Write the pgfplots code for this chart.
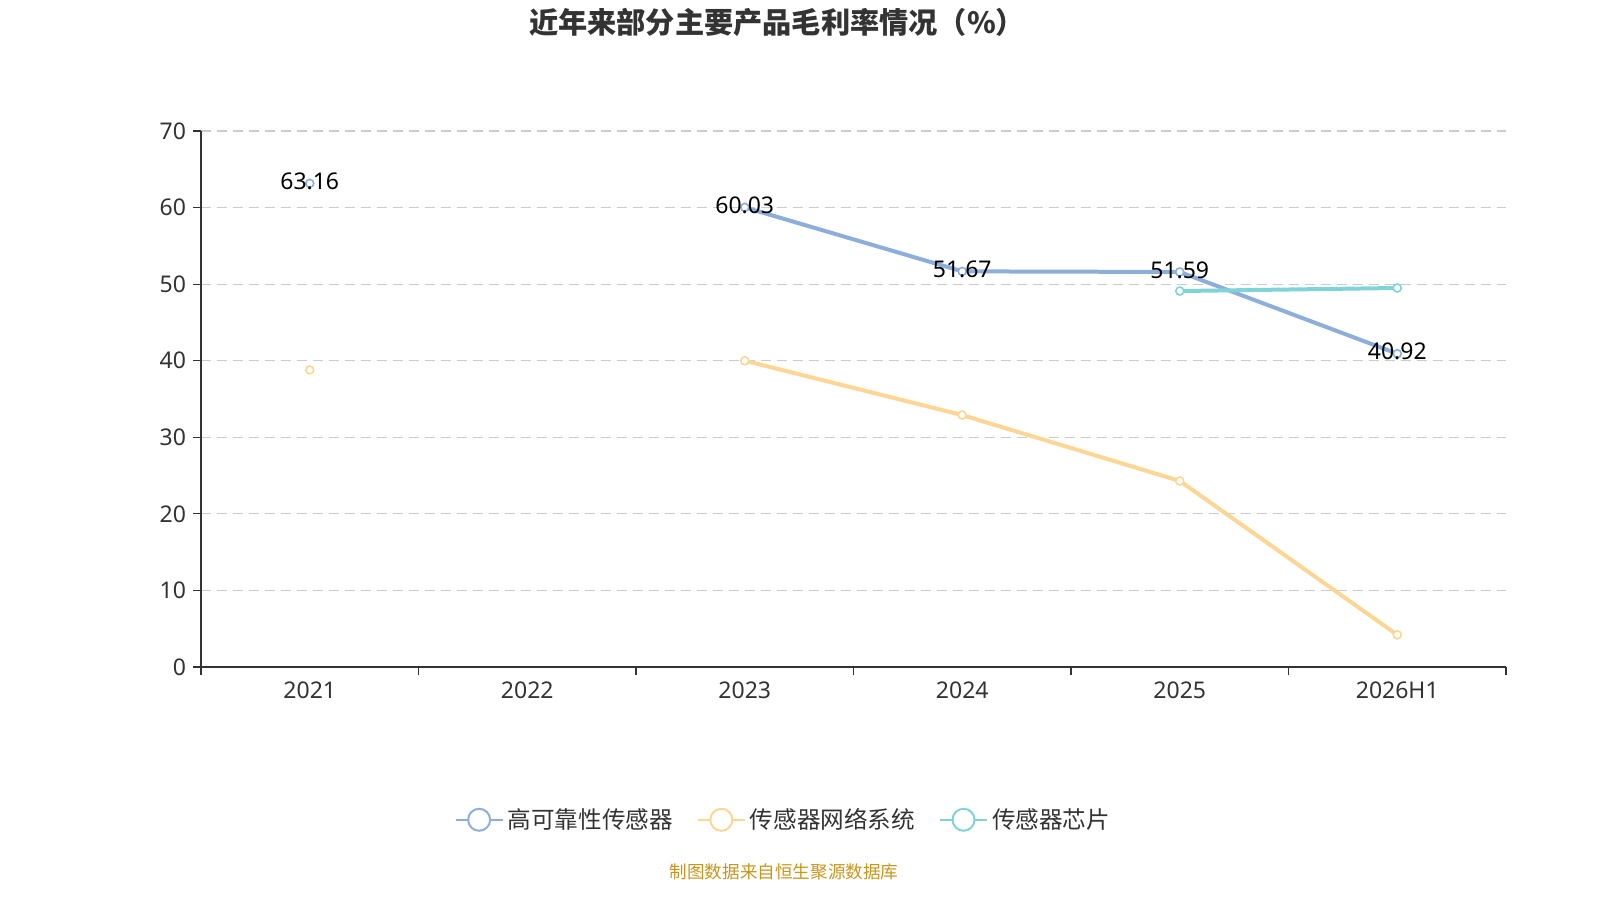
\documentclass[border=0pt]{standalone}
\usepackage{fontspec}
\setmainfont{Noto Sans}
\newfontfamily\cjk{Noto Sans CJK SC}
\usepackage{pgfplots}
\pgfplotsset{compat=1.18}
\definecolor{cblue}{RGB}{141,174,219}
\definecolor{cyellow}{RGB}{252,214,148}
\definecolor{cteal}{RGB}{128,212,216}
\definecolor{cgrid}{RGB}{204,204,204}
\definecolor{caxis}{RGB}{51,51,51}
\definecolor{csrc}{RGB}{200,150,30}
\begin{document}
\begin{tikzpicture}
\node[font=\cjk\bfseries\fontsize{14.6}{16}\selectfont, text=caxis] at (388.5pt,439pt) {近年来部分主要产品毛利率情况（\%）};
\node[font=\cjk\fontsize{8.8}{10}\selectfont, text=csrc] at (392pt,14pt) {制图数据来自恒生聚源数据库};
\begin{axis}[
  at={(100.5pt,116.5pt)}, anchor=south west,
  scale only axis, width=652.5pt, height=268pt,
  xmin=-0.5, xmax=5.5, ymin=0, ymax=70,
  ytick={0,10,...,70},
  xtick={-0.5,0.5,1.5,2.5,3.5,4.5,5.5},
  xticklabels={},
  extra x ticks={0,1,2,3,4,5},
  extra x tick labels={2021,2022,2023,2024,2025,2026H1},
  extra x tick style={major tick length=0pt, grid=none, xticklabel style={yshift=-4pt}},
  tick style={draw=caxis, line width=0.6pt},
  major tick length=4pt, tick align=outside,
  axis x line*=bottom, axis y line*=left,
  axis line style={draw=caxis, line width=0.8pt, -},
  ymajorgrids, grid style={cgrid, dashed, dash pattern=on 5pt off 3pt, line width=0.6pt},
  ticklabel style={font=\fontsize{11.5}{13}\selectfont, text=caxis},
  /pgf/number format/assume math mode=true,
  unbounded coords=jump,
  every axis plot/.append style={line width=2pt},
  legend columns=3,
  legend style={at={(0.447,-0.285)}, anchor=center, draw=none, fill=none,
    font=\cjk\fontsize{11.8}{13}\selectfont, text=caxis,
    /tikz/every even column/.append style={column sep=10pt}},
  legend image code/.code={
    \draw[line width=1pt] (0pt,0pt) -- (23.5pt,0pt);
    \draw[line width=1pt, fill=white] (11.75pt,0pt) circle (5.5pt);
  },
]
\addplot[cblue, mark=*, mark size=2pt, mark options={fill=white, line width=0.8pt},
  nodes near coords, point meta=explicit symbolic,
  every node near coord/.append style={anchor=center, yshift=1pt, text=black, font=\fontsize{11.5}{13}\selectfont}]
  coordinates {(0,63.16)[63.16] (1,nan)[] (2,60.03)[60.03] (3,51.67)[51.67] (4,51.59)[51.59] (5,40.92)[40.92]};
\addlegendentry{高可靠性传感器}
\addplot[cyellow, mark=*, mark size=2pt, mark options={fill=white, line width=0.8pt}]
  coordinates {(0,38.8) (1,nan) (2,40.0) (3,32.9) (4,24.3) (5,4.2)};
\addlegendentry{传感器网络系统}
\addplot[cteal, mark=*, mark size=2pt, mark options={fill=white, line width=0.8pt}]
  coordinates {(4,49.1) (5,49.5)};
\addlegendentry{传感器芯片}
\end{axis}
\pgfresetboundingbox
\path[use as bounding box] (0,0) rectangle (800pt,450pt);
\end{tikzpicture}
\end{document}
